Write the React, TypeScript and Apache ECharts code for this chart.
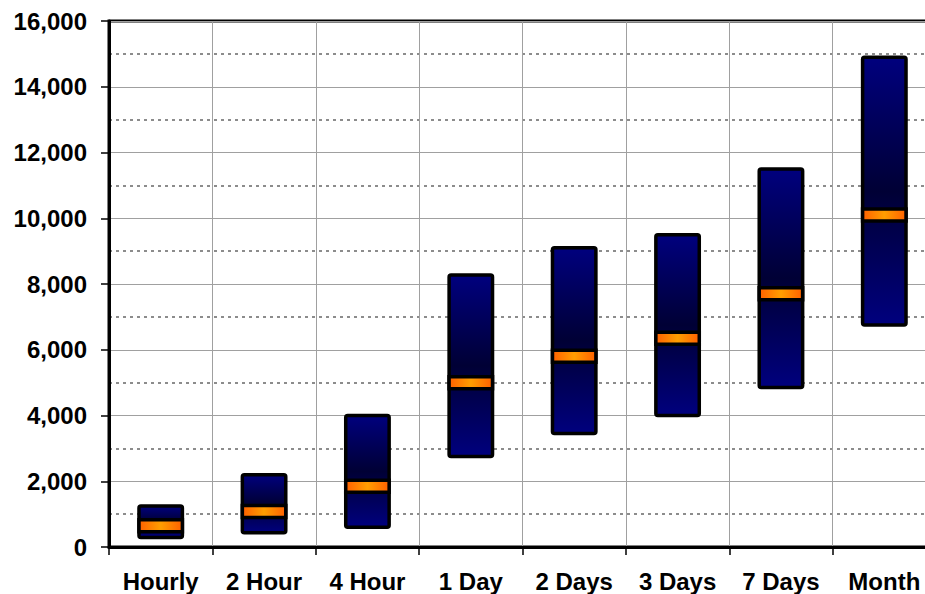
import React, { useEffect, useRef } from "react";
import * as echarts from "echarts";

const categories = ["Hourly", "2 Hour", "4 Hour", "1 Day", "2 Days", "3 Days", "7 Days", "Month"];
const lows = [290, 430, 600, 2750, 3450, 4000, 4850, 6750];
const medians = [650, 1080, 1850, 5000, 5800, 6350, 7700, 10100];
const highs = [1250, 2200, 4000, 8275, 9100, 9500, 11500, 14900];

const FONT = "'Liberation Sans', Arial, sans-serif";

export default function App() {
  const ref = useRef<HTMLDivElement>(null);
  useEffect(() => {
    if (!ref.current) return;
    const chart = echarts.init(ref.current, undefined, { renderer: "svg" });
    const data = categories.map((_, i) => [i, lows[i], medians[i], highs[i]]);
    chart.setOption({
      animation: false,
      backgroundColor: "#fff",
      grid: {
        left: 109,
        top: 21,
        width: 827,
        height: 526,
        outerBoundsMode: "none",
        containLabel: false,
        show: true,
        borderColor: "#000",
        borderWidth: 3,
        backgroundColor: "transparent",
      },
      xAxis: {
        type: "category",
        data: categories,
        boundaryGap: true,
        axisLine: { show: true, lineStyle: { color: "#000", width: 3 } },
        axisTick: { show: true, length: 8, lineStyle: { color: "#000", width: 1.5 } },
        splitLine: { show: true, lineStyle: { color: "#a0a0a0", width: 1 } },
        axisLabel: {
          color: "#000",
          fontSize: 24,
          fontWeight: "bold",
          fontFamily: FONT,
          margin: 22,
          hideOverlap: false,
        },
      },
      yAxis: {
        type: "value",
        min: 0,
        max: 16000,
        interval: 2000,
        axisLine: { show: true, lineStyle: { color: "#000", width: 3 } },
        axisTick: { show: true, length: 8, lineStyle: { color: "#000", width: 1.5 } },
        axisLabel: {
          color: "#000",
          fontSize: 24,
          fontWeight: "bold",
          fontFamily: FONT,
          margin: 22,
          formatter: (v: number) => v.toLocaleString("en-US"),
        },
        splitLine: { show: true, lineStyle: { color: "#a0a0a0", width: 1 } },
        minorTick: { show: false, splitNumber: 2 },
        minorSplitLine: { show: true, lineStyle: { color: "#8c8c8c", width: 2, type: [3, 4] } },
      },
      series: [
        {
          type: "custom",
          data,
          encode: { x: 0, y: [1, 2, 3] },
          clip: false,
          renderItem: (params: any, api: any) => {
            const xi = api.value(0);
            const pLow = api.coord([xi, api.value(1)]);
            const pMed = api.coord([xi, api.value(2)]);
            const pHigh = api.coord([xi, api.value(3)]);
            const bw = api.size([1, 0])[0] * 0.42;
            const x0 = pLow[0] - bw / 2;
            return {
              type: "group",
              children: [
                {
                  type: "rect",
                  shape: { x: x0, y: pHigh[1], width: bw, height: pLow[1] - pHigh[1], r: 2 },
                  style: {
                    fill: new echarts.graphic.LinearGradient(0, 0, 0, 1, [
                      { offset: 0, color: "#00007e" },
                      { offset: 0.5, color: "#000035" },
                      { offset: 1, color: "#00007e" },
                    ]),
                    stroke: "#000",
                    lineWidth: 3.5,
                    lineJoin: "round",
                  },
                },
                {
                  type: "rect",
                  shape: { x: x0, y: pMed[1] - 6, width: bw, height: 12 },
                  style: {
                    fill: new echarts.graphic.LinearGradient(0, 0, 1, 0, [
                      { offset: 0, color: "#ff6000" },
                      { offset: 0.5, color: "#ff9e00" },
                      { offset: 1, color: "#ff6000" },
                    ]),
                    stroke: "#000",
                    lineWidth: 3.5,
                  },
                },
              ],
            };
          },
        },
      ],
    });
    return () => chart.dispose();
  }, []);
  return (
    <div
      ref={ref}
      style={{ position: "fixed", left: 0, top: 0, width: 925, height: 594, background: "#fff" }}
    />
  );
}
